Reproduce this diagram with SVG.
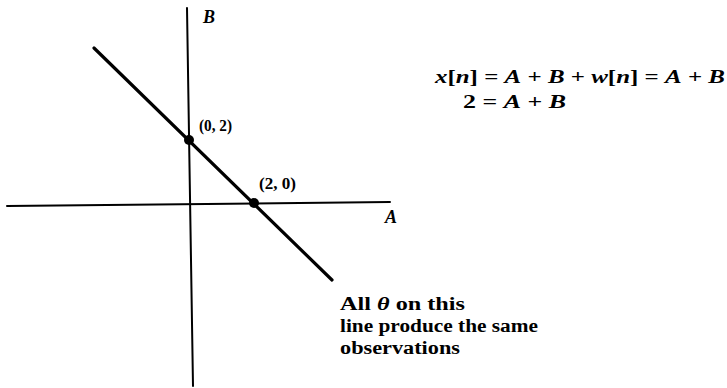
<svg xmlns="http://www.w3.org/2000/svg" width="727" height="388" viewBox="0 0 727 388">
<style>
.ax{stroke:#000;stroke-width:2;fill:none;stroke-linecap:round}
.ln{stroke:#000;stroke-width:3.2;fill:none;stroke-linecap:round}
.t{font-family:"Liberation Serif","DejaVu Serif",serif;font-size:18px;font-weight:bold;fill:#000}
.s{font-size:17px}
.i{font-style:italic}
</style>
<rect width="727" height="388" fill="#fff"/>
<g id="axes">
<path class="ax" d="M187 8 L193 386"/>
<path class="ax" d="M7 206 L390 202"/>
</g>
<g id="connectors">
<path class="ln" d="M94 48 L332 280"/>
</g>
<g id="p02"><circle cx="189" cy="140" r="5"/><text class="t s" x="199" y="131" textLength="33" lengthAdjust="spacingAndGlyphs">(0, 2)</text></g>
<g id="p20"><circle cx="254" cy="203" r="5"/><text class="t s" x="259" y="189" textLength="37" lengthAdjust="spacingAndGlyphs">(2, 0)</text></g>
<g id="labelB"><text class="t i" x="203" y="23">B</text></g>
<g id="labelA"><text class="t i" x="385" y="223">A</text></g>
<g id="eq">
<text class="t" x="435" y="83" textLength="290" lengthAdjust="spacingAndGlyphs"><tspan class="i">x</tspan>[<tspan class="i">n</tspan>] = <tspan class="i">A</tspan> + <tspan class="i">B</tspan> + <tspan class="i">w</tspan>[<tspan class="i">n</tspan>] = <tspan class="i">A</tspan> + <tspan class="i">B</tspan></text>
<text class="t" x="463" y="108" textLength="103" lengthAdjust="spacingAndGlyphs">2 = <tspan class="i">A</tspan> + <tspan class="i">B</tspan></text>
</g>
<g id="note">
<text class="t" x="340" y="310" textLength="125" lengthAdjust="spacingAndGlyphs">All <tspan class="i">θ</tspan> on this</text>
<text class="t" x="340" y="332" textLength="198" lengthAdjust="spacingAndGlyphs">line produce the same</text>
<text class="t" x="340" y="354" textLength="120" lengthAdjust="spacingAndGlyphs">observations</text>
</g>
</svg>
